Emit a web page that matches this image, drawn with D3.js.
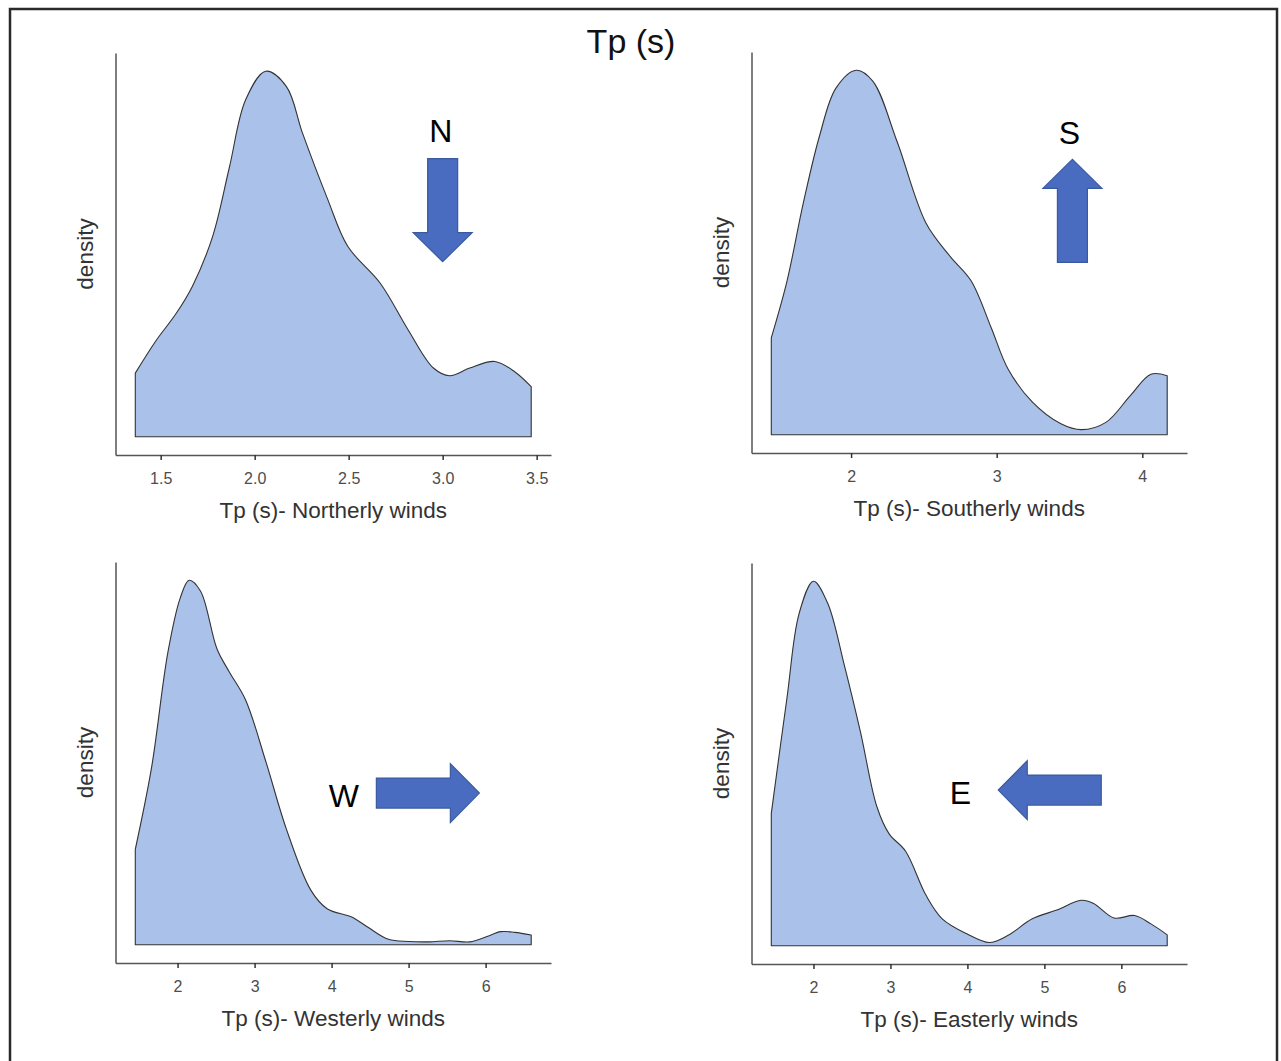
<!DOCTYPE html>
<html>
<head>
<meta charset="utf-8">
<script src="https://cdn.jsdelivr.net/npm/d3@7"></script>
<style>
  body { margin: 0; background: #fff; }
  svg { display: block; font-family: Arial, "Liberation Sans", Helvetica, sans-serif; }
</style>
</head>
<body>
<svg id="chart"></svg>
<script>
// Tp density per wind direction (density, relative units)
const TITLE = "Tp (s)";

const NORTH_TP      = [1.365, 1.474, 1.582, 1.669, 1.777, 1.865, 1.952, 2.059, 2.169, 2.255, 2.386, 2.495, 2.668, 2.819, 2.951, 3.037, 3.144, 3.277, 3.383, 3.471];
const NORTH_DENSITY = [0.174, 0.262, 0.337, 0.412, 0.549, 0.736, 0.922, 1.000, 0.958, 0.830, 0.653, 0.521, 0.420, 0.290, 0.188, 0.167, 0.188, 0.206, 0.178, 0.137];

const SOUTH_TP      = [1.452, 1.559, 1.672, 1.784, 1.896, 2.036, 2.149, 2.317, 2.514, 2.683, 2.823, 2.963, 3.076, 3.244, 3.441, 3.582, 3.750, 3.919, 4.059, 4.171];
const SOUTH_DENSITY = [0.266, 0.420, 0.636, 0.821, 0.951, 1.000, 0.970, 0.803, 0.581, 0.488, 0.423, 0.293, 0.182, 0.090, 0.030, 0.014, 0.034, 0.108, 0.166, 0.162];

const WEST_TP      = [1.451, 1.662, 1.874, 2.034, 2.150, 2.299, 2.511, 2.670, 2.882, 3.147, 3.412, 3.730, 3.942, 4.260, 4.472, 4.738, 5.003, 5.268, 5.532, 5.797, 6.009, 6.195, 6.380, 6.592];
const WEST_DENSITY = [0.262, 0.486, 0.802, 0.951, 1.000, 0.970, 0.812, 0.749, 0.672, 0.502, 0.318, 0.150, 0.099, 0.076, 0.048, 0.015, 0.009, 0.008, 0.011, 0.008, 0.022, 0.036, 0.034, 0.027];

const EAST_TP      = [1.452, 1.655, 1.814, 2.000, 2.186, 2.398, 2.611, 2.823, 2.983, 3.195, 3.461, 3.673, 3.992, 4.285, 4.523, 4.843, 5.161, 5.480, 5.640, 5.906, 6.172, 6.385, 6.596];
const EAST_DENSITY = [0.363, 0.679, 0.912, 1.000, 0.939, 0.772, 0.586, 0.382, 0.307, 0.260, 0.139, 0.074, 0.033, 0.009, 0.028, 0.074, 0.098, 0.125, 0.116, 0.076, 0.083, 0.060, 0.030];

const X_TITLES = ["Tp (s)- Northerly winds", "Tp (s)- Southerly winds", "Tp (s)- Westerly winds", "Tp (s)- Easterly winds"];
const X_TICKS = [[1.5, 2.0, 2.5, 3.0, 3.5], [2, 3, 4], [2, 3, 4, 5, 6], [2, 3, 4, 5, 6]];

// direction annotations, placed in each panel's data coordinates
const DIR_LABELS = ["N", "S", "W", "E"];
const DIR_ANGLE  = [90, -90, 0, 180];
const ARROW_X = [3.0, 3.52, 5.25, 5.07];
const ARROW_Y = [0.62, 0.614, 0.416, 0.427];
const LABEL_X = [2.99, 3.50, 4.16, 3.91];
const LABEL_Y = [0.806, 0.798, 0.377, 0.39];

const W = 1281, H = 1061;
const FILL = "#aac1ea", OUTLINE = "#333";
const ARROW_FILL = "#4a6cc0", ARROW_STROKE = "#3a5a9e";

// panel boxes (axis extents in pixels)
const PANELS = [
  { tp: NORTH_TP, density: NORTH_DENSITY, fmt: d3.format(".1f"), left: 115.5, right: 551,  top: 53,  bottom: 455 },
  { tp: SOUTH_TP, density: SOUTH_DENSITY, fmt: d3.format("d"),   left: 751.5, right: 1187, top: 52,  bottom: 453 },
  { tp: WEST_TP,  density: WEST_DENSITY,  fmt: d3.format("d"),   left: 115.5, right: 551,  top: 562, bottom: 963 },
  { tp: EAST_TP,  density: EAST_DENSITY,  fmt: d3.format("d"),   left: 751.5, right: 1187, top: 563, bottom: 964 }
];

const svg = d3.select("#chart").attr("width", W).attr("height", H);

//Outer frame
svg.append("rect")
  .attr("x", 10).attr("y", 9)
  .attr("width", 1267).attr("height", 1100)
  .attr("fill", "none")
  .attr("stroke", "#2a2a2a")
  .attr("stroke-width", 2.5);

svg.append("text")
  .attr("x", 631).attr("y", 53)
  .attr("text-anchor", "middle")
  .attr("font-size", 34)
  .attr("fill", "#111")
  .text(TITLE);

// arrow pointing right, centred on origin
const ARROW_SHAPE = "M-51.5,-15L22.5,-15L22.5,-29.5L51.5,0L22.5,29.5L22.5,15L-51.5,15Z";

PANELS.forEach((p, i) => {
  const g = svg.append("g");

  //ggplot-style 5% expansion on both axes
  const [xmin, xmax] = d3.extent(p.tp);
  const xr = xmax - xmin;
  const x = d3.scaleLinear()
    .domain([xmin - 0.05 * xr, xmax + 0.05 * xr])
    .range([p.left, p.right]);

  const ymax = d3.max(p.density);
  const y = d3.scaleLinear()
    .domain([-0.05 * ymax, 1.05 * ymax])
    .range([p.bottom, p.top]);

  const pts = p.tp.map((t, j) => ({ t, d: p.density[j] }));

  const area = d3.area()
    .x(d => x(d.t))
    .y0(y(0))
    .y1(d => y(d.d))
    .curve(d3.curveCatmullRom.alpha(0.5));

  g.append("path")
    .datum(pts)
    .attr("d", area)
    .attr("fill", FILL)
    .attr("stroke", OUTLINE)
    .attr("stroke-width", 1.1)
    .attr("stroke-linejoin", "round");

  //Axes
  const xAxis = g.append("g")
    .attr("transform", `translate(0,${p.bottom})`)
    .call(d3.axisBottom(x).tickValues(X_TICKS[i]).tickFormat(p.fmt).tickSize(5).tickSizeOuter(0).tickPadding(13));
  xAxis.select(".domain").attr("stroke", "#555").attr("stroke-width", 1.5);
  xAxis.selectAll(".tick line").attr("stroke", "#333").attr("stroke-width", 1.5);
  xAxis.selectAll(".tick text")
    .attr("font-size", 16)
    .attr("font-family", "Arial, 'Liberation Sans', Helvetica, sans-serif")
    .attr("fill", "#4d4d4d");

  const yAxis = g.append("g")
    .attr("transform", `translate(${p.left},0)`)
    .call(d3.axisLeft(y).tickValues([]).tickSizeOuter(0));
  yAxis.select(".domain").attr("stroke", "#555").attr("stroke-width", 1.5);

  g.append("text")
    .attr("x", (p.left + p.right) / 2)
    .attr("y", p.bottom + 63)
    .attr("text-anchor", "middle")
    .attr("font-size", 22.5)
    .attr("fill", "#333")
    .text(X_TITLES[i]);

  g.append("text")
    .attr("transform", `translate(${p.left - 22.5},${(p.top + p.bottom) / 2}) rotate(-90)`)
    .attr("text-anchor", "middle")
    .attr("font-size", 22.5)
    .attr("fill", "#333")
    .text("density");

  //Wind direction arrow + letter
  g.append("path")
    .attr("d", ARROW_SHAPE)
    .attr("transform", `translate(${x(ARROW_X[i])},${y(ARROW_Y[i])}) rotate(${DIR_ANGLE[i]})`)
    .attr("fill", ARROW_FILL)
    .attr("stroke", ARROW_STROKE)
    .attr("stroke-width", 1.2);

  g.append("text")
    .attr("x", x(LABEL_X[i]))
    .attr("y", y(LABEL_Y[i]))
    .attr("text-anchor", "middle")
    .attr("font-size", 32)
    .attr("fill", "#000")
    .text(DIR_LABELS[i]);
});
</script>
</body>
</html>
